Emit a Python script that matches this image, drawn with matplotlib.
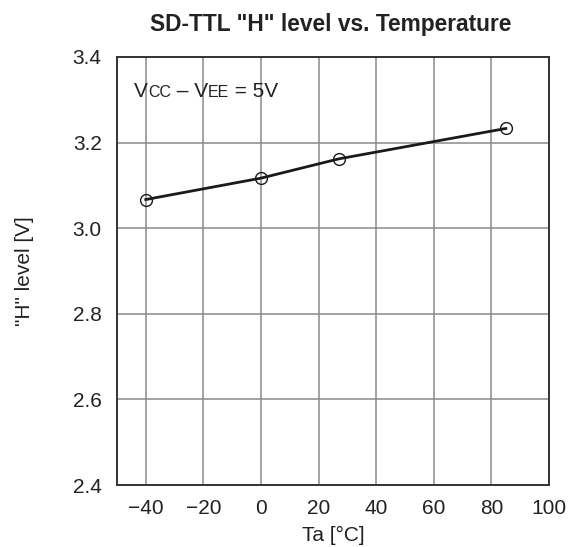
import matplotlib

matplotlib.use("Agg")

import matplotlib.pyplot as plt
from matplotlib.offsetbox import AnchoredOffsetbox, HPacker, TextArea

plt.rcParams["font.family"] = ["Liberation Sans", "DejaVu Sans"]

temperature = [-40, 0, 27, 85]
h_level = [3.067, 3.117, 3.162, 3.233]
x_ticks = [-40, -20, 0, 20, 40, 60, 80, 100]
x_tick_labels = ["\u221240", "\u221220", "0", "20", "40", "60", "80", "100"]
y_ticks = [2.4, 2.6, 2.8, 3.0, 3.2, 3.4]
y_tick_labels = ["2.4", "2.6", "2.8", "3.0", "3.2", "3.4"]

fig = plt.figure(figsize=(5.72, 5.47), dpi=100)
ax = fig.add_axes([0.2045, 0.1133, 0.7553, 0.7825])

ax.plot(temperature, h_level, "-", color="#1a1a1a", lw=2.0, zorder=3)
ax.plot(temperature, h_level, "o", mfc="none", mec="#1a1a1a", ms=8.5, mew=1.0, zorder=4)

ax.set_xlim(-50, 100)
ax.set_ylim(2.4, 3.4)
ax.set_xticks(x_ticks)
ax.set_xticklabels(x_tick_labels)
ax.set_yticks(y_ticks)
ax.set_yticklabels(y_tick_labels)
ax.tick_params(length=0, labelsize=15, colors="#222222")
ax.tick_params(axis="x", pad=10)
ax.tick_params(axis="y", pad=11)
ax.grid(True, color="#8a8a8a", lw=1.1)
for spine in ax.spines.values():
    spine.set_color("#333333")
    spine.set_linewidth(1.4)

ax.set_xlabel("Ta [\u00b0C]", fontsize=15, color="#222222", labelpad=6)
ax.set_ylabel("\"H\" level [V]", fontsize=15, color="#222222", labelpad=28)
ax.set_title("SD-TTL \"H\" level vs. Temperature", fontsize=16.4, fontweight="bold",
             color="#222222", pad=19, x=0.495)

# "Vcc - Vee = 5V" with small-cap subscripts
parts = [("V", 15), ("CC", 11.5), (" \u2013 V", 15), ("EE", 11.5), (" = 5V", 15)]
areas = [TextArea(t, textprops=dict(fontsize=s, color="#222222")) for t, s in parts]
box = HPacker(children=areas, align="baseline", pad=0, sep=0)
anchored = AnchoredOffsetbox(loc="upper left", child=box, frameon=False,
                             bbox_to_anchor=(0.027, 0.955), bbox_transform=ax.transAxes,
                             borderpad=0)
ax.add_artist(anchored)

fig.savefig("out.png", dpi=100)
